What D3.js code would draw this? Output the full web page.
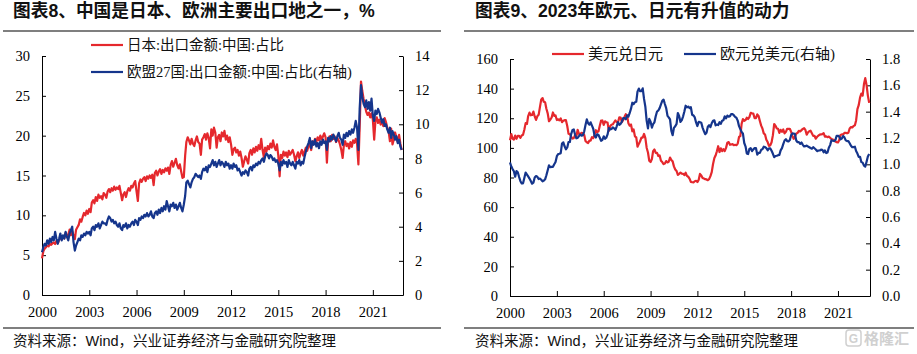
<!DOCTYPE html>
<html><head><meta charset="utf-8">
<script src="https://cdn.jsdelivr.net/npm/d3@7"></script>
<style>body{margin:0;background:#fff}svg{display:block}</style>
</head><body><svg id="c" width="917" height="354"></svg>
<script>
// ---------- DATA ----------
// Left panel: monthly, 2000-01 .. 2022-11
const jpShare = [
4.6,5.5,5.8,6.0,6.2,6.1,6.4,6.3,6.5,6.6,6.4,6.8,
6.5,6.9,7.2,7.0,7.4,7.1,7.8,7.3,7.6,8.2,7.5,8.0,
7.5,7.0,8.2,8.5,8.8,9.5,9.2,9.8,10.3,10.0,10.6,10.2,
10.8,10.4,11.6,11.9,11.5,12.3,11.8,12.6,12.2,12.4,12.0,12.8,
12.6,12.2,13.0,13.3,12.9,13.4,13.1,13.6,13.2,13.5,13.3,13.7,
12.8,11.9,12.6,12.9,12.3,13.0,13.4,13.1,13.7,13.5,14.0,14.3,
13.0,11.8,14.0,14.5,14.2,14.6,14.8,14.3,14.9,14.6,15.0,14.7,
15.1,13.8,15.3,15.6,15.0,15.5,15.8,15.2,15.7,15.4,15.9,15.6,
16.0,15.2,16.3,16.8,16.1,16.6,17.1,16.3,15.9,16.4,15.5,14.7,
14.8,17.5,19.2,19.8,19.4,18.9,19.6,19.0,18.7,19.4,19.9,19.2,
19.0,17.6,19.5,19.8,20.2,19.5,20.3,19.7,18.4,20.8,20.0,21.0,
20.4,18.5,19.8,20.1,19.3,20.4,19.9,20.6,19.5,20.0,19.2,19.8,
18.9,17.6,18.3,18.5,17.9,18.2,17.5,18.0,17.2,16.1,16.8,17.4,
17.0,16.5,17.8,18.2,17.6,18.4,17.9,18.6,18.1,18.8,18.3,19.6,
18.2,17.3,18.5,18.0,18.7,18.3,19.0,18.5,19.4,18.6,18.2,18.9,
17.5,14.9,17.6,17.2,18.0,17.5,17.9,17.3,18.1,17.6,17.9,18.2,
17.6,16.8,17.4,17.9,17.2,17.8,18.2,17.5,18.0,18.5,18.1,18.7,
18.9,18.2,19.3,19.0,19.6,19.2,19.8,19.4,20.0,19.5,19.9,20.3,
19.8,16.6,19.5,19.9,19.3,20.1,19.6,19.9,19.2,19.7,19.4,18.9,
18.2,17.2,18.8,19.3,18.7,19.0,18.4,19.2,18.6,19.4,19.1,19.6,
19.0,16.4,21.0,26.8,25.6,24.6,23.8,23.0,22.6,22.9,22.3,22.8,
22.0,19.5,21.8,22.3,21.6,22.0,21.4,21.8,21.2,22.2,21.7,21.0,
20.6,19.3,20.9,18.9,19.5,20.4,19.8,19.2,20.1,19.0,18.2
];
const euShare = [
2.5,2.8,3.0,2.9,3.2,3.0,3.3,3.1,3.4,3.2,3.7,3.3,
3.0,3.3,3.6,3.2,3.5,3.3,3.7,3.4,3.2,3.6,3.8,4.0,
3.1,2.6,2.9,3.1,3.3,3.2,3.5,3.4,3.6,3.5,3.7,3.6,
3.7,3.5,3.9,4.0,3.8,4.1,4.0,4.2,3.9,4.1,4.3,4.2,
4.2,4.1,4.4,4.6,4.5,4.3,4.4,4.2,4.3,4.1,4.0,4.2,
3.9,3.8,4.1,4.0,4.2,3.9,4.1,4.0,4.2,4.3,4.1,4.4,
4.3,4.1,4.5,4.4,4.6,4.5,4.7,4.6,4.8,4.6,4.7,4.9,
4.6,4.5,4.8,4.9,4.7,5.0,4.8,5.1,4.9,5.2,5.0,5.5,
5.2,4.9,5.3,5.2,5.4,5.1,5.3,5.0,5.2,5.4,5.1,4.9,
5.3,5.8,6.6,6.7,6.5,6.3,6.6,6.8,6.9,7.1,7.0,6.9,
7.0,6.8,7.2,7.4,7.3,7.5,7.2,7.6,7.5,7.7,7.9,7.6,
7.8,7.5,7.7,7.9,7.6,7.8,7.7,7.5,7.8,7.6,7.7,7.4,
7.6,7.4,7.7,7.5,7.6,7.3,7.4,7.2,7.0,7.2,7.1,7.3,
7.2,7.0,7.4,7.5,7.3,7.6,7.5,7.7,7.6,7.8,7.7,7.9,
8.0,7.8,8.1,8.3,8.2,8.0,8.2,8.1,7.9,8.0,7.8,7.9,
7.7,7.3,7.8,7.6,7.9,7.7,7.8,7.5,7.9,7.7,7.6,7.8,
7.6,7.4,7.8,7.7,7.9,7.6,7.8,7.7,8.1,8.4,8.7,8.9,
9.2,8.6,9.0,8.8,9.1,8.7,8.9,8.6,9.0,8.8,9.1,8.9,
9.0,8.5,9.2,9.0,9.3,9.1,9.4,9.2,9.0,9.3,9.5,9.2,
9.1,8.8,9.4,9.2,9.5,9.3,9.6,9.4,9.7,9.5,9.8,10.2,
9.8,8.5,10.9,12.3,11.6,11.2,11.0,11.4,10.9,11.3,10.8,11.5,
10.5,10.2,10.8,10.6,10.9,10.7,10.4,10.1,10.3,9.9,10.0,9.7,
9.5,9.8,9.2,9.6,9.4,9.1,9.3,8.9,9.1,8.7,8.5
];
// Right panel: monthly, 2000-01 .. 2023-01
const usdJpy = [
105.2,109.3,106.3,105.6,108.3,106.1,108.2,108.1,106.8,108.4,108.9,112.2,
116.7,116.2,121.5,123.8,122.0,122.2,124.5,121.2,118.9,121.3,122.3,127.5,
132.7,133.6,131.1,130.8,126.4,123.3,118.0,119.1,120.5,123.9,121.6,121.9,
118.8,119.3,118.6,119.9,117.4,118.3,118.7,118.7,114.8,109.5,109.2,107.7,
106.3,106.6,108.5,107.7,112.2,109.4,109.5,110.2,110.0,108.8,104.7,103.8,
103.3,104.9,104.9,107.2,106.6,108.8,111.9,110.6,111.2,114.9,118.4,118.5,
115.5,117.9,117.3,117.1,111.5,114.6,115.6,115.9,117.3,118.6,117.3,117.3,
120.6,120.5,117.3,118.8,120.8,122.7,121.6,116.7,115.0,115.8,111.2,112.4,
107.8,107.1,100.8,102.7,104.4,106.9,106.9,109.4,106.6,100.1,96.9,91.3,
90.4,92.5,97.8,98.9,96.6,96.6,94.5,94.9,91.3,90.4,89.1,89.5,
91.1,90.2,90.6,93.5,91.8,90.9,87.5,85.4,84.4,81.8,82.5,83.3,
82.6,82.5,81.6,83.2,81.1,80.5,79.3,77.0,76.8,76.7,77.5,77.8,
76.9,78.5,82.4,81.4,79.7,79.3,78.9,78.7,78.2,78.9,80.9,83.6,
89.1,93.1,94.8,97.7,101.1,97.2,99.7,97.8,99.2,97.8,100.0,103.5,
103.9,102.1,102.3,102.5,101.8,102.1,101.8,102.9,107.4,108.0,116.4,119.4,
118.3,118.8,120.4,119.5,120.8,123.7,123.3,123.1,120.0,120.1,122.6,121.6,
118.2,115.0,113.1,109.8,109.0,105.5,103.9,101.3,101.8,103.8,108.6,116.1,
114.9,113.1,112.9,110.1,112.2,110.9,112.4,109.8,110.8,112.9,112.8,112.9,
110.9,107.9,106.1,107.6,109.7,110.1,111.5,111.1,112.0,112.8,113.3,112.1,
108.9,110.5,111.2,111.6,109.9,108.1,108.2,106.2,107.5,108.2,108.9,109.1,
109.3,110.0,107.6,107.8,107.2,107.6,106.8,106.0,105.6,105.2,104.4,103.8,
103.7,105.4,108.7,109.1,109.1,110.1,110.2,109.8,110.2,113.1,114.0,113.8,
114.8,115.2,118.5,126.2,128.8,133.9,136.6,135.3,143.1,147.1,142.3,135.3,
130.4
];
const eurUsd = [
1.014,0.983,0.964,0.947,0.906,0.949,0.940,0.904,0.872,0.855,0.856,0.897,
0.938,0.922,0.908,0.892,0.874,0.853,0.861,0.900,0.911,0.906,0.888,0.892,
0.883,0.870,0.876,0.886,0.917,0.955,0.992,0.978,0.981,0.981,1.001,1.018,
1.062,1.078,1.080,1.085,1.158,1.167,1.137,1.114,1.128,1.169,1.170,1.229,
1.261,1.265,1.226,1.198,1.201,1.214,1.227,1.218,1.222,1.249,1.299,1.341,
1.312,1.301,1.319,1.294,1.270,1.216,1.204,1.229,1.223,1.202,1.179,1.186,
1.213,1.194,1.202,1.227,1.277,1.265,1.268,1.281,1.273,1.262,1.289,1.320,
1.300,1.308,1.324,1.351,1.352,1.342,1.372,1.362,1.390,1.423,1.468,1.457,
1.472,1.475,1.552,1.575,1.556,1.556,1.577,1.497,1.437,1.332,1.273,1.345,
1.324,1.279,1.305,1.319,1.365,1.401,1.409,1.427,1.456,1.482,1.491,1.458,
1.427,1.368,1.357,1.341,1.256,1.221,1.277,1.289,1.307,1.390,1.366,1.322,
1.336,1.365,1.400,1.445,1.432,1.439,1.427,1.434,1.377,1.371,1.356,1.318,
1.291,1.322,1.320,1.316,1.279,1.253,1.229,1.240,1.286,1.297,1.283,1.312,
1.330,1.334,1.296,1.302,1.298,1.320,1.308,1.331,1.335,1.364,1.349,1.370,
1.362,1.366,1.382,1.381,1.373,1.360,1.354,1.332,1.290,1.267,1.247,1.233,
1.162,1.135,1.083,1.078,1.116,1.122,1.100,1.114,1.123,1.124,1.074,1.088,
1.087,1.110,1.114,1.134,1.131,1.123,1.107,1.121,1.121,1.103,1.080,1.054,
1.063,1.065,1.069,1.072,1.106,1.123,1.153,1.181,1.191,1.176,1.174,1.184,
1.221,1.235,1.234,1.228,1.181,1.168,1.169,1.155,1.166,1.148,1.136,1.138,
1.142,1.135,1.130,1.124,1.119,1.130,1.122,1.113,1.100,1.105,1.105,1.111,
1.110,1.091,1.106,1.086,1.090,1.126,1.146,1.183,1.179,1.177,1.184,1.217,
1.217,1.210,1.190,1.196,1.215,1.205,1.182,1.177,1.177,1.160,1.141,1.130,
1.131,1.134,1.101,1.082,1.057,1.057,1.018,1.013,0.990,0.983,1.020,1.059,
1.078
];
const yearTicks = [2000,2003,2006,2009,2012,2015,2018,2021];
const leftTicksA = [0,5,10,15,20,25,30];
const rightTicksA = [0,2,4,6,8,10,12,14];
const leftTicksB = [0,20,40,60,80,100,120,140,160];
const rightTicksB = [0,0.2,0.4,0.6,0.8,1.0,1.2,1.4,1.6,1.8];
const titleA = "图表8、中国是日本、欧洲主要出口地之一，%";
const titleB = "图表9、2023年欧元、日元有升值的动力";
const legendA = ["日本:出口金额:中国:占比", "欧盟27国:出口金额:中国:占比(右轴)"];
const legendB = ["美元兑日元", "欧元兑美元(右轴)"];
const sourceText = "资料来源：Wind，兴业证券经济与金融研究院整理";

// ---------- DRAW ----------
const RED = "#e5282d", BLUE = "#15358c";
const svg = d3.select("#c");
svg.append("rect").attr("width",917).attr("height",354).attr("fill","#fff");
const tickFont = "'Liberation Serif','Times New Roman',serif";
const cjkSerif = "'Liberation Serif','Noto Sans CJK SC',serif";
const cjkSans = "'Liberation Sans','Noto Sans CJK SC',sans-serif";
const monthDate = i => new Date(2000, i, 1);

function panel(o) {
  const g = svg.append("g");
  g.append("text").attr("x", o.titleX).attr("y", 17).text(o.title)
    .attr("font-family", cjkSans).attr("font-weight", "bold").attr("font-size", 17.7).attr("fill", "#111");
  g.append("line").attr("x1", o.ruleX[0]).attr("x2", o.ruleX[1]).attr("y1", 31).attr("y2", 31)
    .attr("stroke", "#000").attr("stroke-width", 1.2);
  g.append("line").attr("x1", o.ruleX[0]).attr("x2", o.ruleX[1]).attr("y1", 328).attr("y2", 328)
    .attr("stroke", "#000").attr("stroke-width", 1.2);
  g.append("text").attr("x", o.titleX).attr("y", 346).text(sourceText)
    .attr("font-family", cjkSans).attr("font-size", 14.5).attr("fill", "#111");

  const x = d3.scaleTime().domain(o.xDomain).range(o.xRange);
  const yL = d3.scaleLinear().domain([0, o.leftTicks[o.leftTicks.length-1]]).range([o.yBottom, o.yTop]);
  const yR = d3.scaleLinear().domain([0, o.rightTicks[o.rightTicks.length-1]]).range([o.yBottom, o.yTop]);

  const styleAxis = sel => {
    sel.selectAll("text").attr("font-family", tickFont).attr("font-size", 14.5).attr("fill", "#000");
    sel.selectAll("line,path").attr("stroke", "#000");
  };
  g.append("g").attr("transform", `translate(${o.xRange[0]},0)`)
    .call(d3.axisLeft(yL).tickValues(o.leftTicks).tickSize(-4).tickSizeOuter(0).tickPadding(12).tickFormat(o.leftFmt))
    .call(styleAxis);
  g.append("g").attr("transform", `translate(${o.xRange[1]},0)`)
    .call(d3.axisRight(yR).tickValues(o.rightTicks).tickSize(-4).tickSizeOuter(0).tickPadding(12).tickFormat(o.rightFmt))
    .call(styleAxis);
  g.append("g").attr("transform", `translate(0,${o.yBottom})`)
    .call(d3.axisBottom(x).tickValues(yearTicks.map(y => new Date(y,0,1))).tickSize(-5).tickSizeOuter(0).tickPadding(12).tickFormat(d3.timeFormat("%Y")))
    .call(styleAxis);

  const lineL = d3.line().x((d,i) => x(monthDate(i))).y(d => yL(d));
  const lineR = d3.line().x((d,i) => x(monthDate(i))).y(d => yR(d));
  g.append("path").datum(o.leftData).attr("d", lineL).attr("fill","none").attr("stroke", RED)
    .attr("stroke-width", 2.2).attr("stroke-linejoin","round");
  g.append("path").datum(o.rightData).attr("d", lineR).attr("fill","none").attr("stroke", BLUE)
    .attr("stroke-width", 2.2).attr("stroke-linejoin","round");

  o.legendPos.forEach((p, i) => {
    g.append("line").attr("x1", p[0]).attr("x2", p[0]+32).attr("y1", p[1]).attr("y2", p[1])
      .attr("stroke", i === 0 ? RED : BLUE).attr("stroke-width", 2.2);
    g.append("text").attr("x", p[0]+36).attr("y", p[1]).attr("dy", "0.36em").text(o.legend[i])
      .attr("font-family", cjkSerif).attr("font-size", o.legendSize).attr("fill", "#111");
  });
}

panel({
  title: titleA, titleX: 13, ruleX: [3, 441],
  xDomain: [new Date(2000,0,1), new Date(2022,11,1)], xRange: [42, 403],
  yTop: 56, yBottom: 295,
  leftTicks: leftTicksA, rightTicks: rightTicksA,
  leftFmt: d3.format("d"), rightFmt: d3.format("d"),
  leftData: jpShare, rightData: euShare,
  legend: legendA, legendPos: [[91, 45], [91, 72]], legendSize: 14.5
});
panel({
  title: titleB, titleX: 475, ruleX: [464, 914],
  xDomain: [new Date(2000,0,1), new Date(2023,0,20)], xRange: [510, 870],
  yTop: 59, yBottom: 296,
  leftTicks: leftTicksB, rightTicks: rightTicksB,
  leftFmt: d3.format("d"), rightFmt: d3.format(".1f"),
  leftData: usdJpy, rightData: eurUsd,
  legend: legendB, legendPos: [[552, 54], [684, 54]], legendSize: 15
});

// watermark
const wm = svg.append("g").attr("opacity", 0.55);
wm.append("rect").attr("x", 846).attr("y", 330).attr("width", 15).attr("height", 16).attr("rx", 3)
  .attr("fill", "none").attr("stroke", "#aaa").attr("stroke-width", 1.5);
wm.append("text").attr("x", 853.5).attr("y", 343).attr("text-anchor","middle").text("G")
  .attr("font-family", cjkSans).attr("font-size", 12).attr("font-weight","bold").attr("fill", "#aaa");
wm.append("text").attr("x", 864).attr("y", 344).text("格隆汇")
  .attr("font-family", cjkSans).attr("font-size", 15).attr("font-weight","bold").attr("fill", "#aaa");
</script></body></html>
